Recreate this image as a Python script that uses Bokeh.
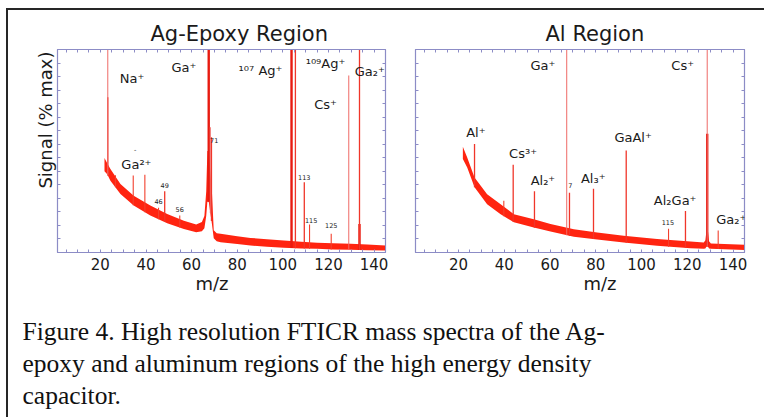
import numpy as np
from bokeh.plotting import figure
from bokeh.models import Label, FixedTicker, LinearAxis, Range1d, Title
from bokeh.layouts import column, row
from bokeh.embed import file_html
from bokeh.resources import INLINE

# ---------------- data ----------------
X_TICKS = [20, 40, 60, 80, 100, 120, 140]
X_MINOR = [5, 10, 15, 25, 30, 35, 45, 50, 55, 65, 70, 75, 85, 90, 95,
           105, 110, 115, 125, 130, 135, 145]
Y_TICKS = [6.67, 13.33, 20, 26.67, 33.33, 40, 46.67, 53.33, 60, 66.67, 73.33, 80, 86.67, 93.33]

# Ag-epoxy region: noisy baseline band (m/z, lower, upper)
ag_band_mz = [21.8, 23.0, 24.4, 28.8, 34.6, 41.9, 49.3, 56.6, 62.0, 64.5, 65.6, 66.4,
              66.9, 67.5, 68.9, 69.7, 71.0, 72.7, 80.0, 85.8, 93.0, 100.4, 108.0,
              115.0, 122.0, 129.7, 137.0, 145.0]
ag_band_hi = [46.5, 44.0, 41.1, 33.8, 28.0, 23.1, 19.0, 15.7, 13.8, 15.0, 18.0, 30.0,
              50.0, 50.0, 30.0, 11.0, 9.5, 9.2, 8.0, 7.2, 6.5, 5.9, 5.3,
              4.8, 4.5, 4.3, 3.9, 3.4]
ag_band_lo = [40.0, 38.5, 35.4, 28.8, 23.1, 18.2, 14.4, 11.6, 10.0, 10.5, 12.0, 18.0,
              25.0, 25.0, 14.0, 7.0, 5.5, 5.1, 4.2, 3.4, 2.8, 2.3, 2.0,
              1.8, 1.5, 1.3, 1.1, 1.0]
# Ag-epoxy peaks (m/z, top, kind)
ag_peak_mz = [23.25, 23.25, 26.6, 34.4, 39.5, 45.5, 48.2, 54.8, 67.5, 68.2, 68.7,
              103.8, 105.5, 109.4, 111.7, 121.2, 128.9, 133.6, 133.6]
ag_peak_top = [115, 76.5, 38.0, 37.9, 38.3, 22.0, 30.2, 18.2, 115, 61.7, 56.8,
               115, 115, 34.6, 13.8, 9.2, 87.2, 115, 14.0]
ag_peak_kind = ["thin", "mid", "small", "small", "small", "small", "mid", "small", "thick", "thin", "mid",
                "thick", "mid", "mid", "small", "small", "thin", "mid", "thick"]

# Al region
al_band_mz = [21.9, 23.8, 27.0, 32.5, 38.4, 44.2, 52.9, 60.2, 70.4, 80.6, 92.2, 106.8,
              121.4, 127.2, 127.9, 128.4, 129.0, 129.5, 130.3, 145.0]
al_band_hi = [52.1, 46.8, 37.0, 28.7, 23.8, 18.8, 16.4, 14.0, 11.5, 9.8, 8.2, 6.6,
              5.4, 4.9, 6.0, 11.0, 11.0, 5.5, 4.4, 3.8]
al_band_lo = [46.0, 41.9, 32.1, 23.8, 18.8, 14.9, 12.3, 10.3, 7.7, 6.4, 4.9, 3.3,
              2.1, 1.8, 2.0, 3.0, 3.0, 2.0, 1.8, 1.2]
al_peak_mz = [27.0, 39.8, 43.9, 53.2, 67.3, 68.5, 79.0, 93.3, 111.8, 119.2, 128.7, 128.7, 133.5]
al_peak_top = [53.5, 25.5, 43.2, 30.2, 115, 29.4, 31.4, 50.2, 11.7, 20.4, 115, 58.5, 10.8]
al_peak_kind = ["mid", "small", "mid", "mid", "thin", "mid", "mid", "mid", "small", "mid",
                "thin", "thick", "small"]

# peak labels (text, m/z anchor, signal anchor)
ag_lab_text = ["Na⁺", "Ga⁺", "¹⁰⁷ Ag⁺", "¹⁰⁹Ag⁺", "Cs⁺", "Ga²⁺"]
ag_lab_x = [33.9, 56.6, 90.2, 118.7, 118.7, 35.8]
ag_lab_y = [85.6, 91.3, 89.7, 93.0, 72.8, 43.3]
ag_small_text = ["71", "113", "115", "125", "46", "49", "56", "-"]
ag_small_x = [69.9, 109.4, 112.4, 121.2, 45.5, 48.2, 54.8, 35.2]
ag_small_y = [55.2, 37.1, 15.8, 13.2, 25.3, 33.0, 21.2, 50.7]

al_lab_text = ["Ga⁺", "Cs⁺", "Al⁺", "Cs³⁺", "Al₂⁺", "Al₃⁺", "GaAl⁺", "Al₂Ga⁺", "Ga₂⁺"]
al_lab_x = [56.9, 118.0, 27.6, 48.2, 56.9, 78.9, 96.3, 114.7, 139.2]
al_lab_y = [92.1, 92.1, 59.3, 48.6, 35.5, 36.6, 56.8, 25.6, 16.1]
al_small_text = ["7", "115"]
al_small_x = [68.9, 111.5]
al_small_y = [33.0, 14.9]

CAPTION_LINES = ["Figure 4. High resolution FTICR mass spectra of the Ag-",
                 "epoxy and aluminum regions of the high energy density",
                 "capacitor."]

# ---------------- styling ----------------
FRAME = "#8c8cc6"
RED = "#ff2410"
SANS = "DejaVu Sans"
INK = "#1a1a1a"
PEAK_STYLE = {"thick": (2.4, "#e81a10"), "mid": (1.3, "#f0362a"),
              "thin": (1.0, "#ef6a66"), "small": (1.1, "#f2402e")}


def style_axis(ax):
    ax.axis_line_color = FRAME
    ax.major_tick_line_color = FRAME
    ax.minor_tick_line_color = FRAME
    ax.major_tick_in = 3
    ax.major_tick_out = 0
    ax.minor_tick_in = 3
    ax.minor_tick_out = 0


def make_panel(w, bl, br, band_mz, band_lo, band_hi, pk_mz, pk_top, pk_kind):
    p = figure(width=w, height=285, x_range=Range1d(1.2, 145.0), y_range=Range1d(0, 100),
               output_backend="svg", toolbar_location=None,
               x_axis_location=None, y_axis_location=None,
               min_border_left=bl, min_border_right=br, min_border_top=39, min_border_bottom=43,
               background_fill_color="white", border_fill_color="white")
    p.xgrid.visible = False
    p.ygrid.visible = False
    p.outline_line_color = FRAME
    p.outline_line_width = 1.2
    bottom = LinearAxis(ticker=FixedTicker(ticks=X_TICKS, minor_ticks=X_MINOR))
    style_axis(bottom)
    bottom.major_label_text_font = SANS
    bottom.major_label_text_font_size = "15px"
    bottom.major_label_text_color = INK
    bottom.major_label_standoff = 5
    p.add_layout(bottom, "below")
    top = LinearAxis(ticker=FixedTicker(ticks=[], minor_ticks=X_TICKS + X_MINOR))
    style_axis(top)
    p.add_layout(top, "above")
    for side in ("left", "right"):
        ax = LinearAxis(ticker=FixedTicker(ticks=[], minor_ticks=Y_TICKS))
        style_axis(ax)
        p.add_layout(ax, side)
    p.varea(x=band_mz, y1=band_lo, y2=band_hi, fill_color=RED)
    mz = np.array(pk_mz)
    top_v = np.array(pk_top)
    base = np.interp(mz, band_mz, band_lo)
    kinds = np.array(pk_kind)
    for kind, (lw, col) in PEAK_STYLE.items():
        m = kinds == kind
        if m.any():
            p.segment(x0=mz[m], y0=base[m], x1=mz[m], y1=top_v[m], line_width=lw, line_color=col)
    return p


def add_text(p, texts, xs, ys, size, align="center"):
    for t, x, y in zip(texts, xs, ys):
        p.add_layout(Label(x=x, y=y, text=t, text_font=SANS, text_font_size=size,
                           text_color=INK, text_align=align, text_baseline="middle"))


def side_title(text, size, align, offset, valign, standoff):
    return Title(text=text, text_font=SANS, text_font_size=size, text_font_style="normal",
                 text_color=INK, align=align, offset=offset, vertical_align=valign, standoff=standoff)


p1 = make_panel(392, 49, 15, ag_band_mz, ag_band_lo, ag_band_hi, ag_peak_mz, ag_peak_top, ag_peak_kind)
p2 = make_panel(364, 15, 20, al_band_mz, al_band_lo, al_band_hi, al_peak_mz, al_peak_top, al_peak_kind)

add_text(p1, ag_lab_text, ag_lab_x, ag_lab_y, "13px")
add_text(p1, ["Ga₂⁺"], [144.7], [89.2], "13px", align="right")
add_text(p1, ag_small_text, ag_small_x, ag_small_y, "6.5px")
add_text(p2, al_lab_text, al_lab_x, al_lab_y, "13px")
add_text(p2, al_small_text, al_small_x, al_small_y, "6.5px")

# panel titles and axis titles
p1.title = side_title("Ag-Epoxy Region", "21px", "left", 93, "bottom", 8)
p2.title = side_title("Al Region", "21px", "left", 130, "bottom", 8)
p1.add_layout(side_title("m/z", "18px", "left", 138, "top", 0), "below")
p2.add_layout(side_title("m/z", "18px", "left", 168, "top", 0), "below")
p1.add_layout(side_title("Signal (% max)", "18px", "right", 2, "middle", 2), "left")

cap = figure(width=756, height=122, x_range=Range1d(0, 756), y_range=Range1d(0, 122),
             output_backend="svg", toolbar_location=None,
             x_axis_location=None, y_axis_location=None, min_border=0,
             background_fill_color="white", border_fill_color="white")
cap.outline_line_color = None
cap.xgrid.visible = False
cap.ygrid.visible = False
for line, y in zip(CAPTION_LINES, [86, 54, 22]):
    cap.add_layout(Label(x=14, y=y, text=line, text_font="Liberation Serif", text_font_size="25.5px",
                         text_color="#111111", text_baseline="alphabetic"))

layout = column(row(p1, p2), cap, margin=(8, 0, 0, 6),
                styles={"border-top": "2px solid #262626", "border-left": "2px solid #262626"})

open("out.html", "w").write(file_html(layout, INLINE))
